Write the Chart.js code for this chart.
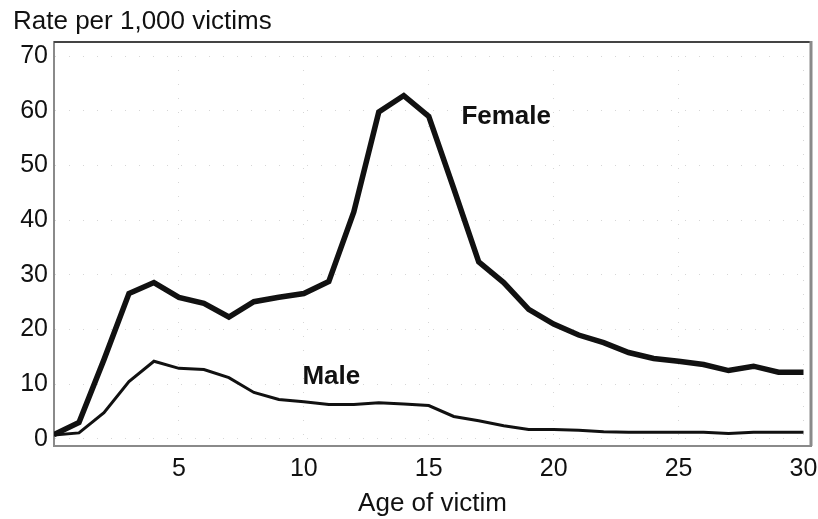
<!DOCTYPE html>
<html>
<head>
<meta charset="utf-8">
<script src="https://cdn.jsdelivr.net/npm/chart.js@4.4.1/dist/chart.umd.min.js"></script>
<style>
  html, body { margin: 0; padding: 0; background: #fff; }
  #chartWrap { width: 818px; height: 519px; }
</style>
</head>
<body>
<div id="chartWrap"><canvas id="ageChart" width="818" height="519"></canvas></div>
<script>
// age of victim (years)
var ages = [0, 1, 2, 3, 4, 5, 6, 7, 8, 9, 10, 11, 12, 13, 14, 15, 16, 17, 18, 19, 20, 21, 22, 23, 24, 25, 26, 27, 28, 29, 30];
// rate per 1,000 victims
var femaleRate = [0.8, 3, 14.5, 26.6, 28.6, 25.9, 24.8, 22.3, 25.1, 25.9, 26.6, 28.8, 41.5, 59.8, 62.8, 59, 45.8, 32.4, 28.6, 23.7, 21, 19, 17.6, 15.8, 14.7, 14.2, 13.6, 12.5, 13.3, 12.2, 12.2];
var maleRate   = [0.7, 1.1, 4.8, 10.5, 14.2, 12.9, 12.7, 11.2, 8.5, 7.2, 6.8, 6.3, 6.3, 6.6, 6.4, 6.1, 4.1, 3.3, 2.4, 1.7, 1.7, 1.6, 1.3, 1.2, 1.2, 1.2, 1.2, 1, 1.2, 1.2, 1.2];
var seriesNames = ['Female', 'Male'];
var yTitle = 'Rate per 1,000 victims';
var xTitle = 'Age of victim';

var FONT = '"Liberation Sans", Arial, sans-serif';
var INK  = '#111111';

function toPoints(vals){
    var pts = [];
    for (var i = 0; i < ages.length; i++){
        pts.push({ x: ages[i], y: vals[i] });
    }
    return pts;
}

// frame, header text and series labels
var framePlugin = {
    id: 'framePlugin',
    afterDraw: function(chart){
        var ctx = chart.ctx;
        var a = chart.chartArea;
        var xs = chart.scales.x;
        var ys = chart.scales.y;
        ctx.save();
        // top border
        ctx.strokeStyle = '#444444';
        ctx.lineWidth = 2;
        ctx.beginPath();
        ctx.moveTo(a.left, a.top);
        ctx.lineTo(a.right, a.top);
        ctx.stroke();
        // right border
        ctx.strokeStyle = '#8a8a8a';
        ctx.lineWidth = 3;
        ctx.beginPath();
        ctx.moveTo(a.right, a.top - 1);
        ctx.lineTo(a.right, a.bottom);
        ctx.stroke();

        ctx.fillStyle = INK;
        ctx.textBaseline = 'middle';
        ctx.textAlign = 'left';
        ctx.font = '26px ' + FONT;
        ctx.fillText(yTitle, 13, 22);

        ctx.textAlign = 'center';
        ctx.font = 'bold 26px ' + FONT;
        ctx.fillText(seriesNames[0], xs.getPixelForValue(18.1), ys.getPixelForValue(58.9));
        ctx.fillText(seriesNames[1], xs.getPixelForValue(11.1), ys.getPixelForValue(11.3));
        ctx.restore();
    }
};

var ctx = document.getElementById('ageChart').getContext('2d');
var myChart = new Chart(ctx, {
    type: 'line',
    data: {
        datasets: [{
            label: seriesNames[0],
            data: toPoints(femaleRate),
            borderColor: INK,
            borderWidth: 5.5,
            pointRadius: 0,
            tension: 0,
            fill: false
        },
        {
            label: seriesNames[1],
            data: toPoints(maleRate),
            borderColor: INK,
            borderWidth: 3,
            pointRadius: 0,
            tension: 0,
            fill: false
        }]
    },
    options: {
        responsive: false,
        animation: false,
        layout: {
            padding: { top: 42, right: 7, bottom: 0, left: 0 }
        },
        plugins: {
            legend: { display: false },
            tooltip: { enabled: false }
        },
        scales: {
            x: {
                type: 'linear',
                min: 0,
                max: 30.3,
                afterFit: function(scale){
                    scale.height = 73;
                    scale.paddingLeft = 0;
                    scale.paddingRight = 0;
                },
                border: { display: true, color: '#8a8a8a', width: 2, dash: [1, 13] },
                grid: { display: true, drawTicks: false, color: '#d6d6d6', lineWidth: 1 },
                ticks: {
                    stepSize: 5,
                    includeBounds: false,
                    padding: 8,
                    color: INK,
                    font: { family: FONT, size: 25 },
                    maxRotation: 0,
                    callback: function(v){ return v === 0 ? '' : v; }
                },
                title: {
                    display: true,
                    text: xTitle,
                    color: INK,
                    font: { family: FONT, size: 26 },
                    padding: { top: 3, bottom: 0 }
                }
            },
            y: {
                type: 'linear',
                min: -1.3,
                max: 72.6,
                afterFit: function(scale){
                    scale.width = 54;
                    scale.paddingTop = 0;
                    scale.paddingBottom = 0;
                },
                border: { display: true, color: '#8a8a8a', width: 2, dash: [1, 13] },
                grid: { display: true, drawTicks: false, color: '#d6d6d6', lineWidth: 1 },
                ticks: {
                    stepSize: 10,
                    includeBounds: false,
                    padding: 6,
                    color: INK,
                    font: { family: FONT, size: 25 }
                }
            }
        }
    },
    plugins: [framePlugin]
});
</script>
</body>
</html>
